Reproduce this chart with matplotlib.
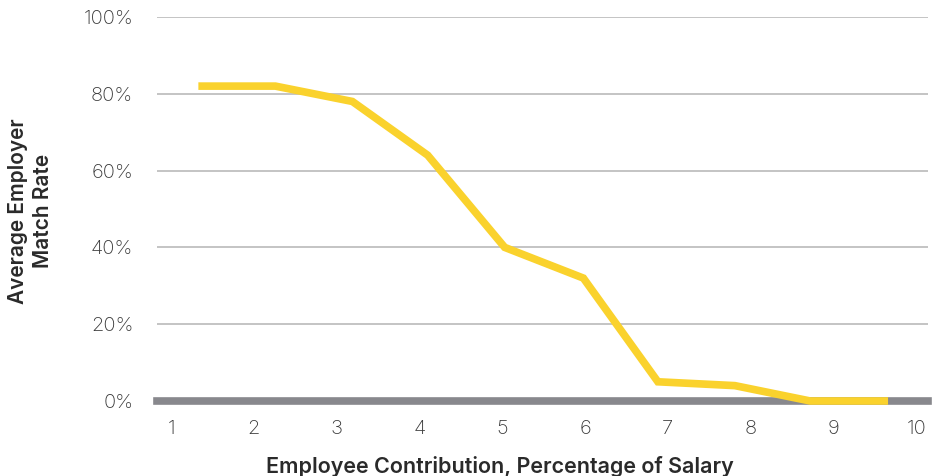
import numpy as np
from matplotlib import pyplot as plt
from matplotlib.ticker import PercentFormatter

# contribution level positions (as drawn) and employer match rate
contribution = [1.33, 2.26, 3.19, 4.10, 5.03, 5.98, 6.88, 7.81, 8.72, 9.66]
match_rate = [82, 82, 78, 64, 40, 32, 5, 4, 0, 0]

x_ticks = [1, 2, 3, 4, 5, 6, 7, 8, 9, 10]
y_ticks = [0, 20, 40, 60, 80, 100]

plt.rcParams['font.family'] = ['Inter', 'DejaVu Sans']

fig = plt.figure(figsize=(9.4, 4.76), dpi=100)
ax = fig.add_axes([0.167, 0.1576, 0.820, 0.8067])

for y in y_ticks[1:]:
  ax.axhline(y, color='#b4b4b4', linewidth=1.1, zorder=1)
ax.axhline(0, color='#88888d', linewidth=5.5, zorder=2, clip_on=False)

ax.plot(contribution, match_rate, color='#fad22d', linewidth=5.5,
        solid_joinstyle='miter', solid_capstyle='butt', zorder=3, clip_on=False)

ax.set_xlim(0.83, 10.14)
ax.set_ylim(0, 100)
ax.set_xticks(x_ticks)
ax.set_yticks(y_ticks)
ax.yaxis.set_major_formatter(PercentFormatter(decimals=0))
ax.tick_params(length=0, labelsize=14.5, labelcolor='#3a3a3a')
ax.tick_params(axis='y', pad=17)
ax.tick_params(axis='x', pad=14)
for lab in ax.get_xticklabels() + ax.get_yticklabels():
  lab.set_fontweight('light')
for s in ax.spines.values():
  s.set_visible(False)

fig.text(0.532, 0.021, "Employee Contribution, Percentage of Salary",
         ha='center', va='center', fontsize=15.5, fontweight='semibold',
         color='#2a2a2a')
fig.text(0.0325, 0.557, "Average Employer\nMatch Rate", rotation=90,
         ha='center', va='center', fontsize=15, fontweight='semibold',
         color='#2a2a2a', linespacing=1.3)

fig.savefig('out.png', dpi=100)
